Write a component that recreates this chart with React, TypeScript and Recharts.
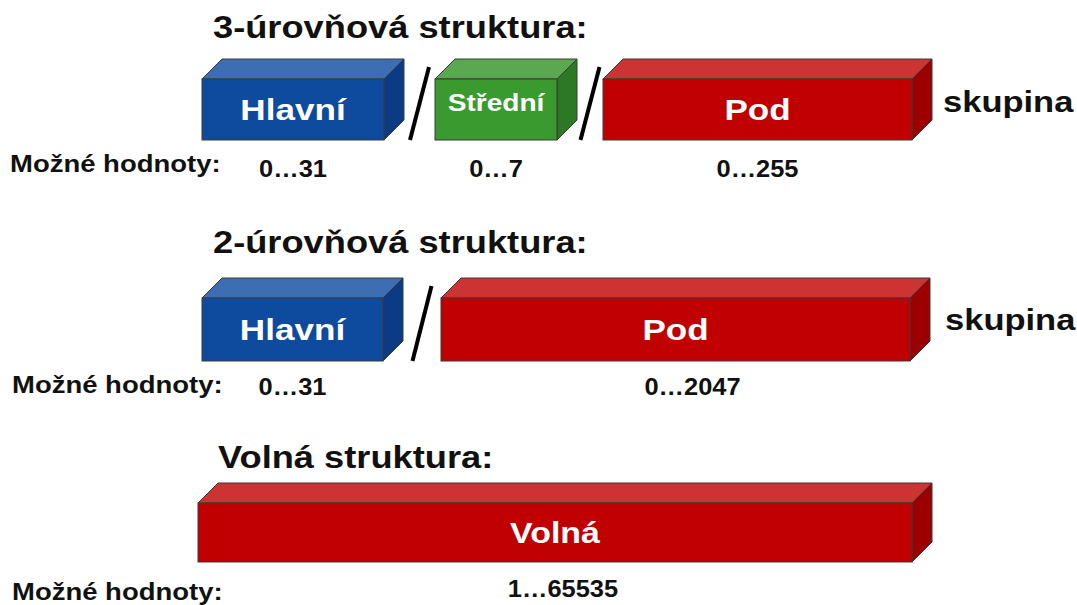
import {
  ComposedChart,
  XAxis,
  YAxis,
  ReferenceArea,
  ReferenceLine,
  ReferenceDot,
} from "recharts";

// texts
const structureTitles = [
  "3-úrovňová struktura:",
  "2-úrovňová struktura:",
  "Volná struktura:",
];
const groupWords = ["skupina", "skupina", ""];
const rangeCaption = "Možné hodnoty:";

// segments of each structure (spans in diagram units along the x axis)
const threeLevelNames = ["Hlavní", "Střední", "Pod"];
const threeLevelRanges = ["0…31", "0…7", "0…255"];
const threeLevelSpans = [
  [202, 384],
  [435, 557],
  [603, 912],
];

const twoLevelNames = ["Hlavní", "Pod"];
const twoLevelRanges = ["0…31", "0…2047"];
const twoLevelSpans = [
  [202, 383],
  [441, 910],
];

const freeNames = ["Volná"];
const freeRanges = ["1…65535"];
const freeSpans = [[198, 912]];

// layout
const W = 1077;
const H = 605;
const DEPTH = 20;
const STRETCH = 1.17;
const FONT = "'Liberation Sans', Arial, Helvetica, sans-serif";

const rows = [
  { top: 79, bottom: 140, titleX: 213, titleY: 38, capX: 10, capY: 172, valueY: 177, wordX: 943, wordY: 112, shift: [0, 0, 0] },
  { top: 298, bottom: 361, titleX: 213, titleY: 253, capX: 12, capY: 393, valueY: 395, wordX: 945, wordY: 330, shift: [0, 17] },
  { top: 503, bottom: 562, titleX: 218, titleY: 468, capX: 12, capY: 600, valueY: 597, wordX: 945, wordY: 0, shift: [8] },
];

const faceColors: Record<string, { face: string; top: string; side: string; size: number; dy: number }> = {
  Hlavní: { face: "#0e4a9e", top: "#3d6eb3", side: "#0b3b84", size: 30, dy: 0 },
  Střední: { face: "#3a9a2f", top: "#5aa84f", side: "#2c7824", size: 24, dy: -7 },
  Pod: { face: "#c00000", top: "#cc3333", side: "#9c0000", size: 30, dy: 0 },
  Volná: { face: "#c00000", top: "#cc3333", side: "#9c0000", size: 29, dy: 0 },
};

const structures = [
  { names: threeLevelNames, ranges: threeLevelRanges, spans: threeLevelSpans },
  { names: twoLevelNames, ranges: twoLevelRanges, spans: twoLevelSpans },
  { names: freeNames, ranges: freeRanges, spans: freeSpans },
];

function Box3D(props: any) {
  const { x, y, width, height, face, top, side } = props;
  const d = DEPTH;
  return (
    <g>
      <polygon
        points={`${x},${y} ${x + d},${y - d} ${x + width + d},${y - d} ${x + width},${y}`}
        fill={top}
        stroke="#3a3a3a"
        strokeWidth={1}
      />
      <polygon
        points={`${x + width},${y} ${x + width + d},${y - d} ${x + width + d},${y + height - d} ${x + width},${y + height}`}
        fill={side}
        stroke="#3a3a3a"
        strokeWidth={1}
      />
      <rect x={x} y={y} width={width} height={height} fill={face} stroke="#3a3a3a" strokeWidth={1} />
    </g>
  );
}

function StretchText(props: any) {
  const { cx, cy, text, size, fill = "#111", anchor = "start", stretch = STRETCH } = props;
  return (
    <text
      transform={`translate(${cx} ${cy}) scale(${stretch} 1)`}
      x={0}
      y={0}
      fontFamily={FONT}
      fontWeight="bold"
      fontSize={size}
      fill={fill}
      textAnchor={anchor}
    >
      {text}
    </text>
  );
}

export default function App() {
  return (
    <div style={{ position: "absolute", left: 0, top: 0, background: "#fff" }}>
      <ComposedChart width={W} height={H} data={[]} margin={{ top: 0, right: 0, bottom: 0, left: 0 }}>
        <XAxis type="number" dataKey="x" domain={[0, W]} allowDataOverflow hide />
        <YAxis type="number" dataKey="y" domain={[0, H]} reversed allowDataOverflow hide />

        {structures.map((s, ri) => {
          const row = rows[ri];
          return s.spans.map(([from, to], si) => {
            const c = faceColors[s.names[si]];
            return (
              <ReferenceArea
                key={`box-${ri}-${si}`}
                x1={from}
                x2={to}
                y1={row.top}
                y2={row.bottom}
                ifOverflow="visible"
                shape={(p: any) => <Box3D {...p} face={c.face} top={c.top} side={c.side} />}
              />
            );
          });
        })}

        {structures.map((s, ri) => {
          const row = rows[ri];
          return s.spans.slice(1).map(([from], si) => {
            const prevEnd = s.spans[si][1] + DEPTH;
            const mid = (prevEnd + from) / 2;
            return (
              <ReferenceLine
                key={`slash-${ri}-${si}`}
                segment={[
                  { x: mid - 9.5, y: row.bottom },
                  { x: mid + 9.5, y: row.top - 12 },
                ]}
                stroke="#000"
                strokeWidth={4}
                ifOverflow="visible"
              />
            );
          });
        })}

        {structures.map((s, ri) => {
          const row = rows[ri];
          return s.spans.map(([from, to], si) => {
            const c = faceColors[s.names[si]];
            const cy = (row.top + row.bottom) / 2 + c.size * 0.36 + c.dy;
            return (
              <ReferenceDot
                key={`name-${ri}-${si}`}
                x={(from + to) / 2}
                y={cy}
                r={0}
                ifOverflow="visible"
                shape={(p: any) => (
                  <StretchText cx={p.cx} cy={p.cy} text={s.names[si]} size={c.size} fill="#fff" anchor="middle" />
                )}
              />
            );
          });
        })}

        {structures.map((s, ri) => {
          const row = rows[ri];
          return s.spans.map(([from, to], si) => (
            <ReferenceDot
              key={`range-${ri}-${si}`}
              x={(from + to) / 2 + (row.shift[si] || 0)}
              y={row.valueY}
              r={0}
              ifOverflow="visible"
              shape={(p: any) => (
                <StretchText cx={p.cx} cy={p.cy} text={s.ranges[si]} size={24} stretch={1.06} anchor="middle" />
              )}
            />
          ));
        })}

        {structureTitles.map((t, ri) => (
          <ReferenceDot
            key={`title-${ri}`}
            x={rows[ri].titleX}
            y={rows[ri].titleY}
            r={0}
            ifOverflow="visible"
            shape={(p: any) => <StretchText cx={p.cx} cy={p.cy} text={t} size={31} />}
          />
        ))}

        {rows.map((row, ri) => (
          <ReferenceDot
            key={`cap-${ri}`}
            x={row.capX}
            y={row.capY}
            r={0}
            ifOverflow="visible"
            shape={(p: any) => <StretchText cx={p.cx} cy={p.cy} text={rangeCaption} size={23.5} />}
          />
        ))}

        {groupWords.map((w, ri) =>
          w ? (
            <ReferenceDot
              key={`word-${ri}`}
              x={rows[ri].wordX}
              y={rows[ri].wordY}
              r={0}
              ifOverflow="visible"
              shape={(p: any) => <StretchText cx={p.cx} cy={p.cy} text={w} size={29.5} />}
            />
          ) : null,
        )}
      </ComposedChart>
    </div>
  );
}
